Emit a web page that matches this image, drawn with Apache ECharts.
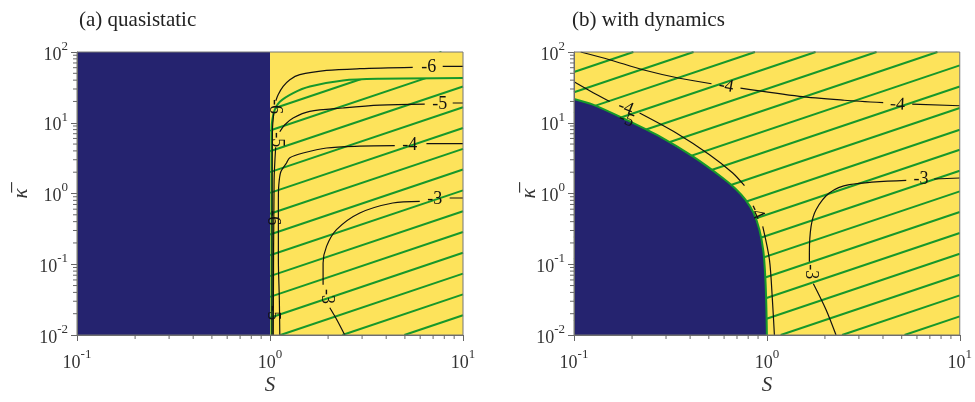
<!DOCTYPE html>
<html lang="en">
<head>
<meta charset="UTF-8" />
<title>stability map</title>
<script src="https://cdn.jsdelivr.net/npm/echarts@6/dist/echarts.min.js"></script>
<style>
  body { margin: 0; padding: 0; background: #fff; }
  #main { width: 975px; height: 402px; }
</style>
</head>
<body>
<div id="main"></div>
<script>
const serif = '"Liberation Serif", "DejaVu Serif", serif';
const blue = "#25236f";
const yellow = "#fde35b";
const green = "#16982b";

const panelTitles = ["(a) quasistatic", "(b) with dynamics"];
const xMinor = [0.2, 0.3, 0.4, 0.5, 0.6, 0.7, 0.8, 0.9, 2, 3, 4, 5, 6, 7, 8, 9];
const yMinor = [0.02, 0.03, 0.04, 0.05, 0.06, 0.07, 0.08, 0.09, 0.2, 0.3, 0.4, 0.5, 0.6, 0.7, 0.8, 0.9,
  2, 3, 4, 5, 6, 7, 8, 9, 20, 30, 40, 50, 60, 70, 80, 90];

// (a) quasistatic: unstable for S < 1
const unstableA = [[0.1, 0.01], [1, 0.01], [1, 100], [0.1, 100]];
// (a) edge of hatched region
const boundaryA = [[1.019, 0.01], [1.019, 7.98], [1.0285, 11.04], [1.059, 15.3], [1.124, 19.84],
  [1.318, 26.3], [1.608, 32.6], [2.391, 39.7], [3.704, 41.9], [10, 42.9]];
// (a) hatch lines [S, kappa] end points
const hatchA = [
  [[1, 15.3], [7.74, 100]], [[1, 7.77], [10, 64.2]], [[1, 3.95], [10, 32.6]], [[1, 2.007], [10, 16.6]],
  [[1, 1.02], [10, 8.43]], [[1, 0.518], [10, 4.28]], [[1, 0.2633], [10, 2.18]], [[1, 0.1338], [10, 1.106]],
  [[1, 0.068], [10, 0.562]], [[1, 0.0346], [10, 0.2856]], [[1, 0.01756], [10, 0.1451]],
  [[1.133, 0.01], [10, 0.0738]], [[2.371, 0.01], [10, 0.0375]], [[4.966, 0.01], [10, 0.01905]]
];

// (b) with dynamics: edge of unstable region
const boundaryB = [[0.1, 21.7], [0.1254, 18.0], [0.1867, 11.0], [0.278, 6.41], [0.413, 3.34],
  [0.5886, 1.672], [0.6875, 1.169], [0.774, 0.8177], [0.852, 0.5353], [0.9149, 0.3078],
  [0.9596, 0.1504], [0.9829, 0.0605], [0.9947, 0.0228], [1.0, 0.01]];
// (b) hatch lines [S, kappa] end points
const hatchB = [
  [[0.1, 52.2], [0.2032, 100]], [[0.1, 27.0], [0.4169, 100]], [[0.1, 13.78], [0.8675, 100]],
  [[0.1, 7.10], [1.788, 100]], [[0.1, 3.64], [3.704, 100]], [[0.1, 1.868], [7.663, 100]],
  [[0.1, 0.946], [10, 64.6]], [[0.1, 0.478], [10, 32.6]], [[0.1, 0.2365], [10, 16.16]],
  [[0.1, 0.1167], [10, 7.98]], [[0.1, 0.0609], [10, 4.16]], [[0.1, 0.0307], [10, 2.10]],
  [[0.1, 0.01567], [10, 1.071]], [[0.1274, 0.01], [10, 0.5477]], [[0.2679, 0.01], [10, 0.2764]],
  [[0.5598, 0.01], [10, 0.141]], [[1.179, 0.01], [10, 0.0712]], [[2.453, 0.01], [10, 0.0363]],
  [[5.17, 0.01], [10, 0.01832]]
];

// contour segments (broken where labels sit)
const contoursA = [
  [[7.85, 62.6], [10, 62.6]],
  [[5.49, 60.6], [2.919, 58.1], [1.963, 54.9], [1.427, 47.8], [1.267, 40.6], [1.17, 32.6], [1.102, 24.9], [1.072, 20.5]],
  [[1.045, 13.5], [1.03, 8], [1.026, 1], [1.025, 0.01]],
  [[8.845, 19.02], [10, 19.02]],
  [[6.335, 18.29], [3.704, 17.7], [2.391, 16.16], [1.608, 14.47], [1.318, 11.67], [1.194, 9.38], [1.124, 7.47]],
  [[1.07, 4.5], [1.05, 1.5], [1.04, 0.01]],
  [[6.465, 5.06], [10, 5.06]],
  [[4.43, 4.74], [2.919, 4.66], [1.963, 4.40], [1.484, 3.74], [1.267, 3.21], [1.218, 2.70], [1.138, 2.03],
    [1.111, 1.332], [1.105, 0.817], [1.105, 0.308], [1.105, 0.116], [1.118, 0.0316], [1.124, 0.01]],
  [[8.53, 0.864], [10, 0.864]],
  [[5.97, 0.773], [4.325, 0.734], [2.919, 0.53], [2.211, 0.308], [1.963, 0.1788], [1.884, 0.1041], [1.884, 0.0514]],
  [[2.041, 0.0243], [2.219, 0.01646], [2.44, 0.01]]
];
const contoursB = [
  [[0.1083, 100], [0.153, 77.8], [0.2276, 56.2], [0.3527, 42.6], [0.5163, 35.6]],
  [[0.7296, 30.8], [1.474, 23.6], [2.52, 20.8], [4.01, 19.2]],
  [[5.67, 18.29], [10, 17.4]],
  [[0.1, 38.0], [0.1206, 28.4], [0.153, 20.0]],
  [[0.2188, 13.73], [0.339, 7.16], [0.5043, 3.53], [0.6654, 1.949], [0.7653, 1.289]],
  [[0.9517, 0.343], [1.031, 0.116], [1.068, 0.0316], [1.094, 0.01]],
  [[7.37, 1.603], [10, 1.656]],
  [[5.28, 1.532], [2.675, 1.332], [2.108, 1.016], [1.799, 0.59], [1.695, 0.343], [1.661, 0.144], [1.661, 0.1087]],
  [[1.742, 0.0531], [2.027, 0.0228], [2.283, 0.01]]
];

// contour labels: S, kappa, text, rotation (deg)
const labelsA = [
  [6.64, 60.0, "-6", 0], [7.57, 18.29, "-5", 0], [5.3, 4.74, "-4", 0], [7.14, 0.817, "-3", 0],
  [1.963, 0.0351, "-3", -90], [1.059, 16.9, "-6", -90], [1.081, 5.76, "-5", -90],
  [1.038, 0.455, "-6", -90], [1.034, 0.0207, "-5", -90]
];
const labelsB = [
  [0.615, 32.9, "-4", -10], [4.76, 18.1, "-4", -3], [0.1852, 16.3, "-4", -22], [0.1867, 11.04, "-5", -22],
  [0.883, 0.553, "-4", -65], [6.29, 1.567, "-3", 0], [1.695, 0.0785, "-3", -90]
];

const chart = echarts.init(document.getElementById("main"));

const tickLabel = {
  color: "#333",
  fontFamily: serif,
  formatter: (v) => "{b|10}{s|" + Math.round(Math.log10(v)) + "}",
  rich: {
    b: { fontSize: 18, fontFamily: serif, color: "#333", lineHeight: 24, verticalAlign: "bottom" },
    s: { fontSize: 13, fontFamily: serif, color: "#333", lineHeight: 12, verticalAlign: "top" }
  }
};
const axisLine = { lineStyle: { color: "#666", width: 1 } };

function xAxisFor(g) {
  return {
    type: "log", logBase: 10, min: 0.1, max: 10, gridIndex: g, z: 10,
    name: "S", nameLocation: "middle", nameGap: 40, nameMoveOverlap: false,
    nameTextStyle: { fontFamily: serif, fontStyle: "italic", fontSize: 21, color: "#333" },
    axisLine, axisTick: { length: 6, lineStyle: { color: "#666" } },
    axisLabel: Object.assign({ margin: 13 }, tickLabel),
    splitLine: { show: false }
  };
}
function yAxisFor(g, gap) {
  return {
    type: "log", logBase: 10, min: 0.01, max: 100, gridIndex: g, z: 10,
    name: "κ\u0305", nameLocation: "middle", nameGap: gap, nameRotate: 90, nameMoveOverlap: false,
    nameTextStyle: { fontFamily: serif, fontStyle: "italic", fontSize: 21, color: "#333" },
    axisLine, axisTick: { length: 6, lineStyle: { color: "#666" } },
    axisLabel: Object.assign({ margin: 9 }, tickLabel),
    splitLine: { show: false }
  };
}

function polygon(g, points, color, z) {
  return {
    type: "custom", xAxisIndex: g, yAxisIndex: g, z, silent: true, clip: true,
    data: [[1, 1]],
    renderItem: (params, api) => ({
      type: "polygon",
      shape: { points: points.map((p) => api.coord(p)) },
      style: { fill: color }
    })
  };
}
function line(g, pts, color, width, z, smooth) {
  return {
    type: "line", xAxisIndex: g, yAxisIndex: g, data: pts, symbol: "none", silent: true,
    smooth: smooth, clip: true, z, lineStyle: { color, width }
  };
}
function labels(g, list) {
  return {
    type: "custom", xAxisIndex: g, yAxisIndex: g, z: 8, silent: true,
    data: list.map((l) => [l[0], l[1]]),
    renderItem: (params, api) => {
      const l = list[params.dataIndex];
      const p = api.coord([l[0], l[1]]);
      return {
        type: "text", x: p[0], y: p[1], rotation: (l[3] * Math.PI) / 180,
        style: { text: l[2], fill: "#111", font: "18px " + serif, align: "center", verticalAlign: "middle" }
      };
    }
  };
}
function frameAndTicks(g) {
  return {
    type: "custom", xAxisIndex: g, yAxisIndex: g, z: 11, silent: true,
    data: [[1, 1]],
    renderItem: (params, api) => {
      const tl = api.coord([0.1, 100]);
      const br = api.coord([10, 0.01]);
      const children = [{
        type: "rect",
        shape: { x: tl[0], y: tl[1], width: br[0] - tl[0], height: br[1] - tl[1] },
        style: { fill: "none", stroke: "#777", lineWidth: 1 }
      }];
      xMinor.forEach((v) => {
        const p = api.coord([v, 0.01]);
        children.push({ type: "line", shape: { x1: p[0], y1: p[1], x2: p[0], y2: p[1] + 4 }, style: { stroke: "#666", lineWidth: 1 } });
      });
      yMinor.forEach((v) => {
        const p = api.coord([0.1, v]);
        children.push({ type: "line", shape: { x1: p[0] - 4, y1: p[1], x2: p[0], y2: p[1] }, style: { stroke: "#666", lineWidth: 1 } });
      });
      return { type: "group", children };
    }
  };
}

const series = [];
// panel (a)
hatchA.forEach((h) => series.push(line(0, h, green, 2, 2, false)));
series.push(polygon(0, [[1, 100], [1, 7.98]].concat(boundaryA.slice(1), [[10, 100]]), yellow, 3));
series.push(polygon(0, unstableA, blue, 4));
series.push(line(0, boundaryA, green, 2, 5, 0.3));
contoursA.forEach((c) => series.push(line(0, c, "#111", 1.2, 6, 0.3)));
series.push(labels(0, labelsA));
series.push(frameAndTicks(0));
// panel (b)
hatchB.forEach((h) => series.push(line(1, h, green, 2, 2, false)));
series.push(polygon(1, [[0.1, 0.01]].concat(boundaryB), blue, 4));
series.push(line(1, boundaryB, green, 2, 5, 0.3));
contoursB.forEach((c) => series.push(line(1, c, "#111", 1.2, 6, 0.3)));
series.push(labels(1, labelsB));
series.push(frameAndTicks(1));

chart.setOption({
  animation: false,
  title: panelTitles.map((t, i) => ({
    text: t, left: i === 0 ? 74 : 567, top: 5,
    textStyle: { fontFamily: serif, fontWeight: "normal", fontSize: 21, color: "#222" }
  })),
  grid: [
    { left: 77, top: 52, width: 386, height: 283, show: true, backgroundColor: yellow, borderWidth: 0 },
    { left: 574, top: 52, width: 386, height: 283, show: true, backgroundColor: yellow, borderWidth: 0 }
  ],
  xAxis: [xAxisFor(0), xAxisFor(1)],
  yAxis: [yAxisFor(0, 45), yAxisFor(1, 34)],
  series
});
</script>
</body>
</html>
